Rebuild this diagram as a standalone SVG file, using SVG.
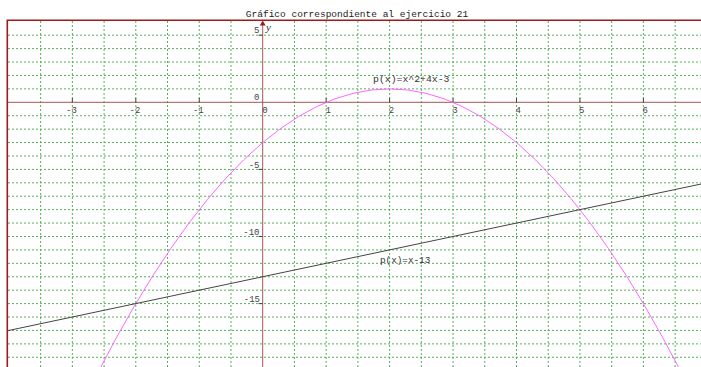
<svg xmlns="http://www.w3.org/2000/svg" width="701" height="367" viewBox="0 0 701 367">
  <style>
    .grid { fill: none; stroke: #5aae5a; stroke-width: 1; stroke-dasharray: 2 2; }
    .axis { fill: none; stroke: #a85454; stroke-width: 1; }
    .frame { fill: none; stroke: #9c1c1c; stroke-width: 1.6; }
    .tick { fill: none; stroke: #444; stroke-width: 1; }
    .tl { font-family: "Liberation Mono", "DejaVu Sans Mono", monospace; font-size: 9px; fill: #444; }
    .ttl { font-family: "Liberation Mono", "Courier New", monospace; font-size: 9.5px; fill: #222; }
    .fl { font-family: "Liberation Mono", "Courier New", monospace; font-size: 9.8px; fill: #333; }
  </style>
  <defs>
    <clipPath id="plot"><rect x="8" y="21" width="693" height="346"/></clipPath>
  </defs>
  <rect x="0" y="0" width="701" height="367" fill="#ffffff"/>
  <g id="title">
    <text class="ttl" x="357" y="16.5" text-anchor="middle">Gráfico correspondiente al ejercicio 21</text>
  </g>
  <g id="grid">
    <path class="grid" d="M40.63 21V367M72.35 21V367M104.08 21V367M135.8 21V367M167.53 21V367M199.25 21V367M230.98 21V367M294.43 21V367M326.15 21V367M357.88 21V367M389.6 21V367M421.33 21V367M453.05 21V367M484.78 21V367M516.5 21V367M548.23 21V367M579.95 21V367M611.68 21V367M643.4 21V367M675.13 21V367"/>
    <path class="grid" d="M8 35.2H701M8 48.62H701M8 62.04H701M8 75.46H701M8 88.88H701M8 115.72H701M8 129.14H701M8 142.56H701M8 155.98H701M8 169.4H701M8 182.82H701M8 196.24H701M8 209.66H701M8 223.08H701M8 236.5H701M8 249.92H701M8 263.34H701M8 276.76H701M8 290.18H701M8 303.6H701M8 317.02H701M8 330.44H701M8 343.86H701M8 357.28H701"/>
  </g>
  <g id="axes">
    <line class="axis" x1="8" y1="102.3" x2="701" y2="102.3"/>
    <line class="axis" x1="262.7" y1="22" x2="262.7" y2="367"/>
    <polygon points="262.7,20.5 259.8,25.5 265.6,25.5" fill="#9c1c1c"/>
    <path class="tick" d="M72.35 98V102.3M135.8 98V102.3M199.25 98V102.3M326.15 98V102.3M389.6 98V102.3M453.05 98V102.3M516.5 98V102.3M579.95 98V102.3M643.4 98V102.3M258.5 35.2H262.7M258.5 169.4H262.7M258.5 236.5H262.7M258.5 303.6H262.7"/>
    <text x="266" y="31" font-family="'Liberation Serif', serif" font-style="italic" font-size="11" fill="#333">y</text>
    <g class="tl">
      <text x="76.8" y="112.5" text-anchor="end">-3</text>
      <text x="140.3" y="112.5" text-anchor="end">-2</text>
      <text x="203.7" y="112.5" text-anchor="end">-1</text>
      <text x="267.7" y="112.5" text-anchor="end">0</text>
      <text x="330.8" y="112.5" text-anchor="end">1</text>
      <text x="394.2" y="112.5" text-anchor="end">2</text>
      <text x="457.6" y="112.5" text-anchor="end">3</text>
      <text x="521" y="112.5" text-anchor="end">4</text>
      <text x="584.5" y="112.5" text-anchor="end">5</text>
      <text x="648" y="112.5" text-anchor="end">6</text>
      <text x="259.5" y="32.5" text-anchor="end">5</text>
      <text x="259.5" y="99.5" text-anchor="end">0</text>
      <text x="259.5" y="167.5" text-anchor="end">-5</text>
      <text x="259.5" y="234.8" text-anchor="end">-10</text>
      <text x="260" y="301.8" text-anchor="end">-15</text>
    </g>
  </g>
  <g id="curves" clip-path="url(#plot)">
    <path id="parabola" d="M97.73 372.85Q389.6 -195.09 681.47 372.85" fill="none" stroke="#ff66ff" stroke-width="1"/>
    <line id="line" x1="5.7" y1="331.1" x2="706.85" y2="182.8" stroke="#444" stroke-width="1"/>
  </g>
  <g id="labels">
    <text class="fl" x="373" y="82">p(x)=x^2+4x-3</text>
    <text class="fl" x="380" y="263" style="font-size:9.3px">p(x)=x-13</text>
  </g>
  <g id="frame">
    <path class="frame" d="M7.3 367V20.3H701"/>
  </g>
</svg>
